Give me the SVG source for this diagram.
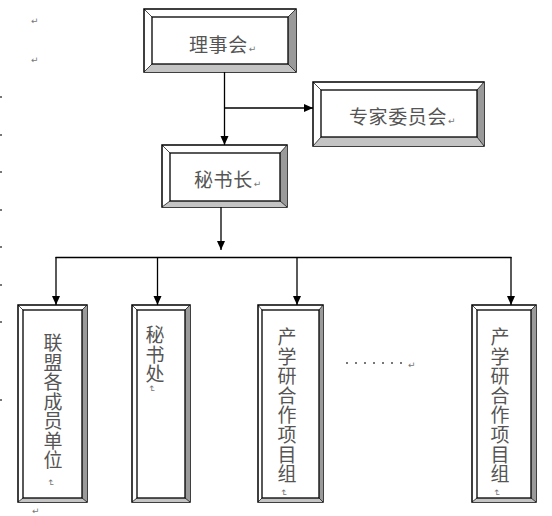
<svg xmlns="http://www.w3.org/2000/svg" width="552" height="516" viewBox="0 0 552 516">
<style>
.o{fill:#fff;stroke:#000;stroke-width:1.5}
.i{fill:#fff;stroke:#000;stroke-width:1.3}
.r{fill:#9a9a9a;stroke:none}
.b{fill:#c4c4c4;stroke:none}
.d{stroke:#000;stroke-width:0.7;fill:none}
.t{font-family:"Noto Sans CJK SC","Noto Sans CJK TC",sans-serif;font-size:19px;fill:#555;letter-spacing:0.6px}
.v{font-family:"Noto Sans CJK SC","Noto Sans CJK TC",sans-serif;font-size:19px;fill:#555;text-anchor:middle}
.m{font-family:"DejaVu Sans",sans-serif;font-size:9px;fill:#777}
.c{stroke:#000;stroke-width:1.3;fill:none}
.dot{fill:#777}
</style>
<defs>
<marker id="ah" markerUnits="userSpaceOnUse" markerWidth="10" markerHeight="10" refX="9" refY="4" orient="auto">
<path d="M0,0 L9,4 L0,8 Z" fill="#000"/>
</marker>
</defs>

<g id="margin">
<text class="m" x="31" y="24">↵</text>
<text class="m" x="31" y="63">↵</text>
<rect class="dot" x="0" y="96" width="2" height="2"/>
<rect class="dot" x="0" y="134" width="2" height="2"/>
<rect class="dot" x="0" y="171" width="2" height="2"/>
<rect class="dot" x="0" y="209" width="2" height="2"/>
<rect class="dot" x="0" y="246" width="2" height="2"/>
<rect class="dot" x="0" y="284" width="2" height="2"/>
<rect class="dot" x="0" y="321" width="2" height="2"/>
<rect class="dot" x="0" y="399" width="2" height="2"/>
<text class="m" x="32" y="514">↵</text>
</g>

<g id="connectors">
<line class="c" x1="224.5" y1="72" x2="224.5" y2="145" marker-end="url(#ah)"/>
<line class="c" x1="224.5" y1="108" x2="313" y2="108" marker-end="url(#ah)"/>
<line class="c" x1="221" y1="207" x2="221" y2="250" marker-end="url(#ah)"/>
<line class="c" x1="55.5" y1="257.5" x2="511.5" y2="257.5"/>
<line class="c" x1="56" y1="257" x2="56" y2="305" marker-end="url(#ah)"/>
<line class="c" x1="157.5" y1="257" x2="157.5" y2="305" marker-end="url(#ah)"/>
<line class="c" x1="297" y1="257" x2="297" y2="305" marker-end="url(#ah)"/>
<line class="c" x1="511" y1="257" x2="511" y2="305" marker-end="url(#ah)"/>
</g>

<g id="board">
<rect class="o" x="144" y="9" width="152" height="63"/>
<polygon class="r" points="296,9 296,72 288,64 288,17"/>
<polygon class="b" points="144,72 296,72 288,64 152,64"/>
<rect class="i" x="152" y="17" width="136" height="47"/>
<path class="d" d="M144,9L152,17M296,9L288,17M144,72L152,64M296,72L288,64"/>
<text class="t" x="189" y="52">理事会<tspan class="m" dx="1">↵</tspan></text>
</g>

<g id="experts">
<rect class="o" x="313" y="82" width="171" height="64"/>
<polygon class="r" points="484,82 484,146 477,137 477,90"/>
<polygon class="b" points="313,146 484,146 477,137 321,137"/>
<rect class="i" x="321" y="90" width="156" height="47"/>
<path class="d" d="M313,82L321,90M484,82L477,90M313,146L321,137M484,146L477,137"/>
<text class="t" x="349" y="124">专家委员会<tspan class="m" dx="1">↵</tspan></text>
</g>

<g id="secretary-general">
<rect class="o" x="162" y="145" width="125" height="62"/>
<polygon class="r" points="287,145 287,207 280,201 280,153"/>
<polygon class="b" points="162,207 287,207 280,201 170,201"/>
<rect class="i" x="170" y="153" width="110" height="48"/>
<path class="d" d="M162,145L170,153M287,145L280,153M162,207L170,201M287,207L280,201"/>
<text class="t" x="194" y="187">秘书长<tspan class="m" dx="1">↵</tspan></text>
</g>

<g id="members">
<rect class="o" x="18" y="305" width="69" height="197"/>
<polygon class="r" points="87,305 87,502 82,498 82,310"/>
<polygon class="b" points="18,502 87,502 82,498 23,498"/>
<rect class="i" x="23" y="310" width="59" height="188"/>
<path class="d" d="M18,305L23,310M87,305L82,310M18,502L23,498M87,502L82,498"/>
<text class="v" x="53" y="350">联<tspan x="53" dy="19.5">盟</tspan><tspan x="53" dy="19.5">各</tspan><tspan x="53" dy="19.5">成</tspan><tspan x="53" dy="19.5">员</tspan><tspan x="53" dy="19.5">单</tspan><tspan x="53" dy="19.5">位</tspan></text>
<text class="m" transform="translate(48,479) rotate(90)">↵</text>
</g>

<g id="secretariat">
<rect class="o" x="132" y="305" width="58" height="197"/>
<polygon class="r" points="190,305 190,502 185,498 185,310"/>
<polygon class="b" points="132,502 190,502 185,498 137,498"/>
<rect class="i" x="137" y="310" width="48" height="188"/>
<path class="d" d="M132,305L137,310M190,305L185,310M132,502L137,498M190,502L185,498"/>
<text class="v" x="155" y="342">秘<tspan x="155" dy="19.5">书</tspan><tspan x="155" dy="19.5">处</tspan></text>
<text class="m" transform="translate(149,385) rotate(90)">↵</text>
</g>

<g id="project-group-1">
<rect class="o" x="258" y="305" width="65" height="197"/>
<polygon class="r" points="323,305 323,502 319,498 319,310"/>
<polygon class="b" points="258,502 323,502 319,498 262,498"/>
<rect class="i" x="262" y="310" width="57" height="188"/>
<path class="d" d="M258,305L262,310M323,305L319,310M258,502L262,498M323,502L319,498"/>
<text class="v" x="287" y="344">产<tspan x="287" dy="19.6">学</tspan><tspan x="287" dy="19.6">研</tspan><tspan x="287" dy="19.6">合</tspan><tspan x="287" dy="19.6">作</tspan><tspan x="287" dy="19.6">项</tspan><tspan x="287" dy="19.6">目</tspan><tspan x="287" dy="19.6">组</tspan></text>
<text class="m" transform="translate(281,489) rotate(90)">↵</text>
</g>

<g id="ellipsis">
<rect class="dot" x="346" y="362" width="2" height="2"/>
<rect class="dot" x="355" y="362" width="2" height="2"/>
<rect class="dot" x="364" y="362" width="2" height="2"/>
<rect class="dot" x="373" y="362" width="2" height="2"/>
<rect class="dot" x="382" y="362" width="2" height="2"/>
<rect class="dot" x="391" y="362" width="2" height="2"/>
<rect class="dot" x="400" y="362" width="2" height="2"/>
<text class="m" x="408" y="368">↵</text>
</g>

<g id="project-group-n">
<rect class="o" x="472" y="305" width="64" height="197"/>
<polygon class="r" points="536,305 536,502 531,498 531,310"/>
<polygon class="b" points="472,502 536,502 531,498 477,498"/>
<rect class="i" x="477" y="310" width="54" height="188"/>
<path class="d" d="M472,305L477,310M536,305L531,310M472,502L477,498M536,502L531,498"/>
<text class="v" x="500" y="344">产<tspan x="500" dy="19.6">学</tspan><tspan x="500" dy="19.6">研</tspan><tspan x="500" dy="19.6">合</tspan><tspan x="500" dy="19.6">作</tspan><tspan x="500" dy="19.6">项</tspan><tspan x="500" dy="19.6">目</tspan><tspan x="500" dy="19.6">组</tspan></text>
<text class="m" transform="translate(494,489) rotate(90)">↵</text>
</g>
</svg>
